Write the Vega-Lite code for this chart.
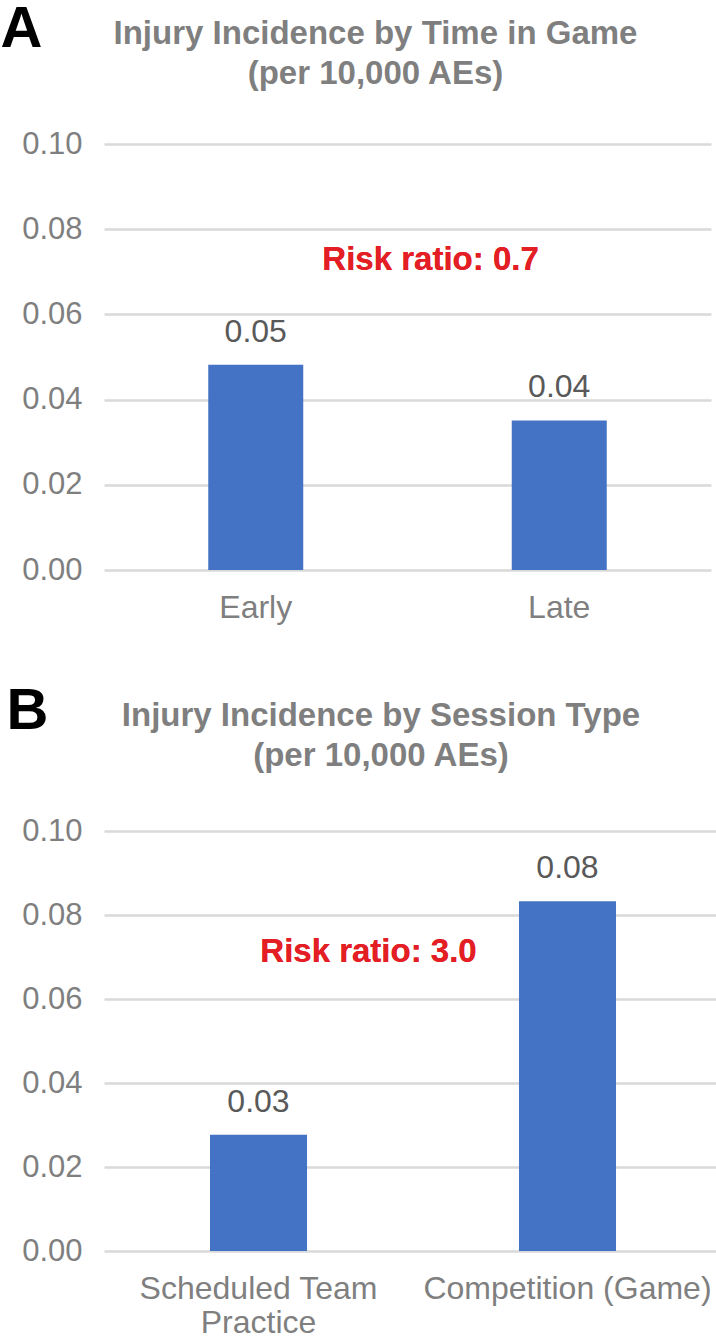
{
  "$schema": "https://vega.github.io/schema/vega-lite/v6.json",
  "padding": {"left": 0, "top": 0, "right": 0, "bottom": 0},
  "background": "white",
  "spacing": 59,
  "config": {
    "font": "Liberation Sans",
    "view": {"stroke": null},
    "title": {"font": "Liberation Sans", "fontSize": 33, "fontWeight": "bold", "color": "#7f7f7f", "lineHeight": 40, "anchor": "middle", "frame": "group", "dx": -32, "offset": -91},
    "axisX": {"domain": false, "ticks": false, "grid": false, "labelFontSize": 32, "labelColor": "#7f7f7f", "labelPadding": 22, "labelAngle": 0, "labelBaseline": "top", "labelLineHeight": 34, "labelLimit": 0, "title": null},
    "axisY": {"domain": false, "ticks": false, "grid": true, "gridColor": "#d9d9d9", "gridWidth": 2.5, "labelFontSize": 31, "labelColor": "#7f7f7f", "labelPadding": 22, "format": ".2f", "titleAngle": 0, "titleAlign": "left", "titleBaseline": "alphabetic", "titleFont": "Liberation Sans", "titleFontWeight": "bold", "titleColor": "#000000", "titleFontSize": 58}
  },
  "datasets": {
    "time": [
      {"period": "Early", "incidence": 0.0482},
      {"period": "Late", "incidence": 0.0351}
    ],
    "session": [
      {"session": "Scheduled Team Practice", "incidence": 0.0277},
      {"session": "Competition (Game)", "incidence": 0.0833}
    ]
  },
  "vconcat": [
    {
      "width": 607,
      "height": 426,
      "title": {"text": ["Injury Incidence by Time in Game", "(per 10,000 AEs)"]},
      "data": {"name": "time"},
      "encoding": {
        "x": {"field": "period", "type": "nominal", "sort": null, "scale": {"paddingInner": 0, "paddingOuter": 0}},
        "y": {"field": "incidence", "type": "quantitative", "scale": {"domain": [0, 0.1], "nice": false}, "axis": {"title": "A", "titleX": -104, "titleY": -98, "values": [0, 0.02, 0.04, 0.06, 0.08, 0.1]}}
      },
      "layer": [
        {"mark": {"type": "bar", "color": "#4472C4", "width": {"band": 0.313}}},
        {"mark": {"type": "text", "fontSize": 32, "color": "#595959", "baseline": "alphabetic", "dy": -23}, "encoding": {"text": {"field": "incidence", "type": "quantitative", "format": ".2f"}}},
        {"mark": {"type": "text", "text": "Risk ratio: 0.7", "fontSize": 33, "fontWeight": "bold", "color": "#E31E24", "baseline": "alphabetic", "align": "center"}, "encoding": {"x": {"datum": "Late", "type": "nominal", "bandPosition": 0.076}, "y": {"datum": 0.0704, "type": "quantitative"}, "text": {"value": "Risk ratio: 0.7"}}}
      ]
    },
    {
      "width": 618,
      "height": 420,
      "title": {"text": ["Injury Incidence by Session Type", "(per 10,000 AEs)"]},
      "data": {"name": "session"},
      "encoding": {
        "x": {"field": "session", "type": "nominal", "sort": null, "scale": {"paddingInner": 0, "paddingOuter": 0}, "axis": {"labelExpr": "datum.label == 'Scheduled Team Practice' ? ['Scheduled Team', 'Practice'] : datum.label"}},
        "y": {"field": "incidence", "type": "quantitative", "scale": {"domain": [0, 0.1], "nice": false}, "axis": {"title": "B", "titleX": -98, "titleY": -103, "values": [0, 0.02, 0.04, 0.06, 0.08, 0.1]}}
      },
      "layer": [
        {"mark": {"type": "bar", "color": "#4472C4", "width": {"band": 0.314}}},
        {"mark": {"type": "text", "fontSize": 32, "color": "#595959", "baseline": "alphabetic", "dy": -23}, "encoding": {"text": {"field": "incidence", "type": "quantitative", "format": ".2f"}}},
        {"mark": {"type": "text", "text": "Risk ratio: 3.0", "fontSize": 33, "fontWeight": "bold", "color": "#E31E24", "baseline": "alphabetic", "align": "center"}, "encoding": {"x": {"datum": "Scheduled Team Practice", "type": "nominal", "bandPosition": 0.856}, "y": {"datum": 0.0687, "type": "quantitative"}, "text": {"value": "Risk ratio: 3.0"}}}
      ]
    }
  ]
}
